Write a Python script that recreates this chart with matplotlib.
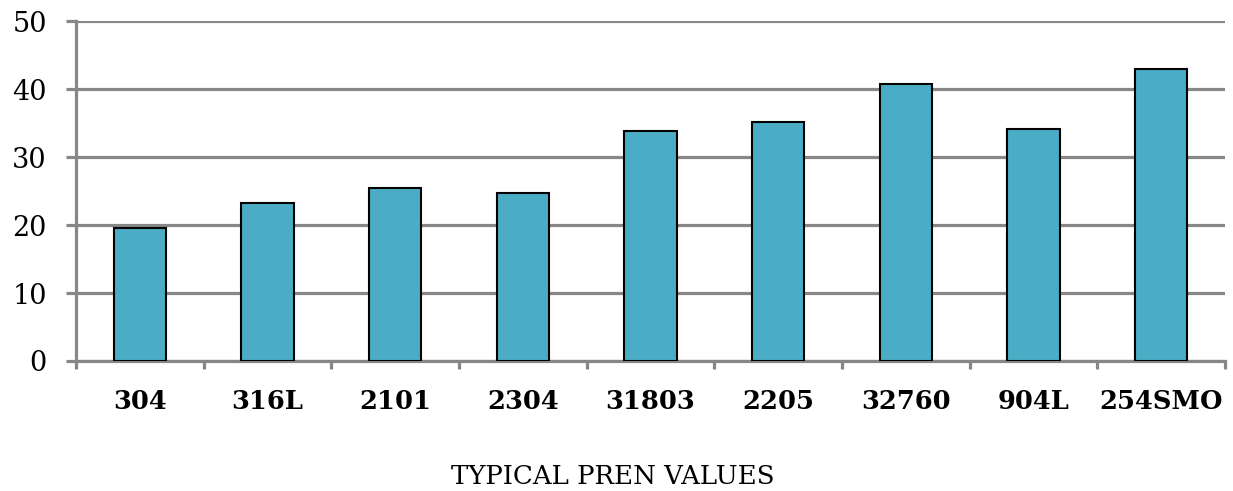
import matplotlib
matplotlib.use("Agg")
import matplotlib.pyplot as plt
import numpy as np

# PREN values per grade
grades = ["304", "316L", "2101", "2304", "31803", "2205", "32760", "904L", "254SMO"]
pren = [19.6, 23.2, 25.4, 24.7, 33.8, 35.1, 40.7, 34.1, 42.9]

plt.rcParams['font.family'] = ['DejaVu Serif']

grid_col = "#878787"
bar_col = "#4BACC6"

fig = plt.figure(figsize=(12.33, 4.91), dpi=100)
ax = fig.add_axes([0.0616, 0.2648, 0.932, 0.6922])

x = np.arange(len(grades))
ax.bar(x, pren, width=0.41, color=bar_col, edgecolor="black", linewidth=1.5, zorder=3)

ax.set_xlim(-0.5, len(grades) - 0.5)
ax.set_ylim(0, 50)
ax.set_yticks(range(0, 51, 10))
ax.yaxis.grid(True, color=grid_col, linewidth=2.3, zorder=0)
ax.tick_params(axis="y", length=7, width=2.3, color=grid_col, labelsize=19.5, pad=14)

# x ticks: labels centred, tick marks at category boundaries
ax.set_xticks(x)
ax.set_xticklabels(grades, fontsize=18.5, fontweight="bold")
ax.tick_params(axis="x", which="major", length=0, pad=20)
ax.set_xticks(np.arange(-0.5, len(grades)), minor=True)
ax.tick_params(axis="x", which="minor", length=6, width=2.3, color=grid_col)

for side in ["top", "right"]:
    ax.spines[side].set_visible(False)
for side in ["left", "bottom"]:
    ax.spines[side].set_color(grid_col)
    ax.spines[side].set_linewidth(2.3)

fig.text(0.497, 0.03, "TYPICAL PREN VALUES", ha="center", va="center", fontsize=18.7)

fig.savefig("out.png", dpi=100)
